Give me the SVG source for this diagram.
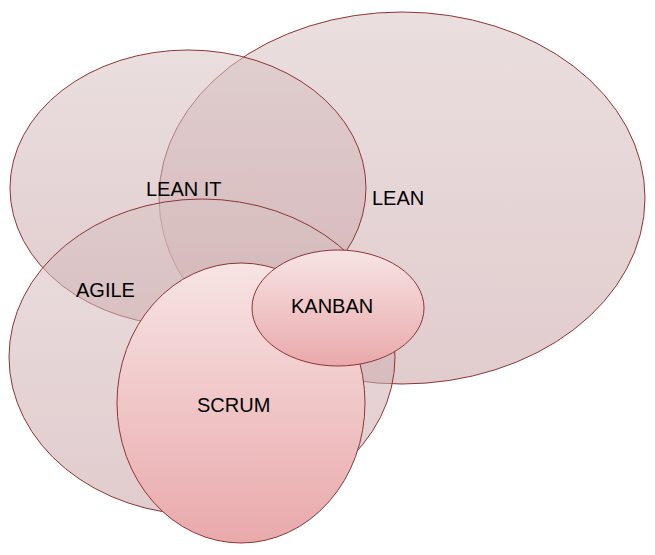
<svg xmlns="http://www.w3.org/2000/svg" width="655" height="555" viewBox="0 0 655 555">
<defs>
<linearGradient id="g1" x1="0" y1="0" x2="0" y2="1"><stop offset="0" stop-color="#d9c3c4"/><stop offset="1" stop-color="#c9a2a5"/></linearGradient>
<linearGradient id="g2" x1="0" y1="0" x2="0" y2="1"><stop offset="0" stop-color="#f7e4e4"/><stop offset="1" stop-color="#e9a9ab"/></linearGradient>
</defs>
<style>
.b{fill:url(#g1);fill-opacity:0.55;stroke:#8e3535;stroke-width:1}
.f{fill:url(#g2);stroke:#8e3535;stroke-width:1}
text{font-family:"Liberation Sans",Arial,sans-serif;font-size:20px;fill:#000}
</style>
<rect width="655" height="555" fill="#fff"/>
<g id="lean"><ellipse class="b" cx="402" cy="198" rx="243" ry="186"/><text x="372" y="205">LEAN</text></g>
<g id="leanit"><ellipse class="b" cx="188" cy="188" rx="178" ry="138"/><text x="146" y="196">LEAN IT</text></g>
<g id="agile"><ellipse class="b" cx="202" cy="357" rx="193" ry="158"/><text x="76" y="297">AGILE</text></g>
<g id="scrum"><ellipse class="f" cx="241" cy="403" rx="124" ry="140"/><text x="197" y="412">SCRUM</text></g>
<g id="kanban"><ellipse class="f" cx="338" cy="308" rx="86" ry="58"/><text x="291" y="313">KANBAN</text></g>
<g id="connectors"/>
</svg>
